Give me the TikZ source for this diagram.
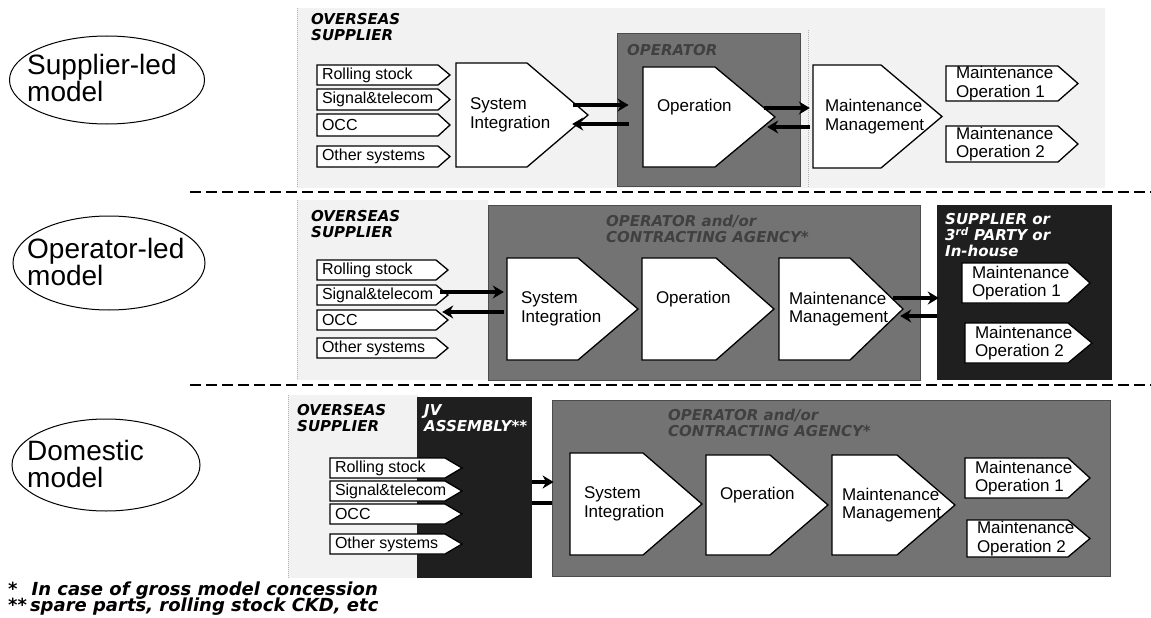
\documentclass[tikz,border=0pt]{standalone}
\usepackage{fontspec}
\setmainfont{Liberation Sans}
\newfontfamily\bifont{DejaVu Sans}
\usetikzlibrary{arrows.meta,calc,fit,shapes.geometric}

\tikzset{
 supp/.style={fill=gray!10},
 suppedge/.style={draw=gray!60, densely dotted, line width=1pt},
 opbox/.style={fill=black!55, draw=black!70, line width=0.8pt, inner sep=0},
 blkbox/.style={fill=black!88, inner sep=0},
 shapefit/.style={inner sep=0, draw=none},
 pent/.style={fill=white, draw=black, line width=1.3pt, line join=miter},
 boxtext/.style={font=\fontsize{17}{18.5}\selectfont, align=left, inner sep=0, anchor=west},
 intext/.style={font=\fontsize{16}{18}\selectfont, inner sep=0, anchor=west},
 lbl/.style={font=\bifont\bfseries\itshape\fontsize{15}{16}\selectfont, align=left, inner sep=0, anchor=north west},
 foot/.style={font=\bifont\bfseries\itshape\fontsize{18}{18}\selectfont, inner sep=0, anchor=west},
 arr/.style={line width=3.4pt, -{Stealth[length=11pt,width=13pt]}},
 sepline/.style={dash pattern=on 11pt off 5pt, line width=1.4pt},
 ell/.style={ellipse, draw, line width=1pt, inner sep=0},
 elltext/.style={font=\fontsize{28}{27}\selectfont, align=left, inner sep=0, anchor=west},
}

\newcommand\pentbox[9][boxtext]{%
  \node[shapefit, fit={(#3,#4) (#6,#7)}] (#2) {};
  \path[pent] (#3,#4) -- (#5,#4) -- (#6,{(#4+#7)/2}) -- (#5,#7) -- (#3,#7) -- cycle;
  \node[#1] (#2-t) at ($(#2.west)+(#8)$) {#9};
}

\begin{document}
\begin{tikzpicture}[x=1pt, y=-1pt]
\useasboundingbox (0,0) rectangle (1151,618);
\fill[white] (0,0) rectangle (1151,618);

% ---------- ellipses ----------
\node[ell, minimum width=195, minimum height=88] (e1) at (107,80) {};
\node[elltext] (e1t) at (27,78) {Supplier-led\\model};
\node[ell, minimum width=192, minimum height=94] (e2) at (109,263) {};
\node[elltext] (e2t) at (27,262) {Operator-led\\model};
\node[ell, minimum width=188, minimum height=92] (e3) at (106,465) {};
\node[elltext] (e3t) at (27,464) {Domestic\\model};

% ---------- separators ----------
\coordinate (d1a) at (190,192); \coordinate (d1b) at (1151,192);
\coordinate (d2a) at (190,385); \coordinate (d2b) at (1151,385);
\draw[sepline] (d1a) -- (d1b);
\draw[sepline] (d2a) -- (d2b);

% ---------- row 1 : supplier-led ----------
\path[supp] (297,8) rectangle (1105,188);
\draw[suppedge] (297,8) -- (297,188);
\draw[suppedge] (808,30) -- (808,188);
\node[lbl] (os1) at (311,13) {OVERSEAS\\SUPPLIER};
\pentbox[intext]{r1a}{317}{65}{438}{450}{85}{5,0}{Rolling stock}
\pentbox[intext]{r1b}{317}{89}{438}{450}{110}{5,0}{Signal\&telecom}
\pentbox[intext]{r1c}{317}{114}{438}{450}{136}{5,0}{OCC}
\pentbox[intext]{r1d}{317}{146}{438}{450}{167}{5,0}{Other systems}
\pentbox{si1}{456}{63}{527}{588}{167}{14,0}{System\\Integration}
\node[opbox, fit={(617,33) (800,186)}] (op1) {};
\node[lbl, text=black!75] (op1l) at (627,44) {OPERATOR};
\pentbox{o1}{643}{67}{715}{775}{167}{14,-10}{Operation}
\pentbox{m1}{813}{65}{881}{942}{168}{12,0}{Maintenance\\Management}
\pentbox{mo1a}{946}{66}{1058}{1078}{101}{10,0}{Maintenance\\Operation 1}
\pentbox{mo1b}{946}{126}{1058}{1078}{162}{10,0}{Maintenance\\Operation 2}
\draw[arr] ($(si1.east)+(-15,-10)$) -- ($(op1.west)+(12,-4.5)$);
\draw[arr] ($(op1.west)+(12,14.5)$) -- ($(si1.east)+(-16,9)$);
\draw[arr] ($(o1.east)+(-11,-9)$) -- ($(m1.west)+(-3,-8.5)$);
\draw[arr] ($(m1.west)+(-3,10.5)$) -- ($(o1.east)+(-8,10)$);

% ---------- row 2 : operator-led ----------
\path[supp] (297,200) rectangle (488,380);
\draw[suppedge] (297,200) -- (297,380);
\node[lbl] (os2) at (311,210) {OVERSEAS\\SUPPLIER};
\pentbox[intext]{r2a}{317}{260}{436}{448}{280}{5,0}{Rolling stock}
\pentbox[intext]{r2b}{317}{285}{436}{448}{305}{5,0}{Signal\&telecom}
\pentbox[intext]{r2c}{317}{310}{436}{448}{330}{5,0}{OCC}
\pentbox[intext]{r2d}{317}{338}{436}{448}{358}{5,0}{Other systems}
\node[opbox, fit={(488,205) (920,380)}] (op2) {};
\node[lbl, text=black!75] (op2l) at (606,215) {OPERATOR and/or\\CONTRACTING AGENCY*};
\pentbox{si2}{507}{258}{578}{638}{360}{14,0}{System\\Integration}
\pentbox{o2}{642}{258}{716}{774}{360}{14,-10}{Operation}
\pentbox{m2}{779}{258}{850}{903}{360}{10,0}{Maintenance\\Management}
\node[blkbox, fit={(937,205) (1112,380)}] (bk2) {};
\node[lbl, text=white] (bk2l) at (945,213) {SUPPLIER or\\3\textsuperscript{rd} PARTY or\\In-house};
\pentbox{mo2a}{962}{263}{1068}{1090}{303}{10,0}{Maintenance\\Operation 1}
\pentbox{mo2b}{965}{323}{1068}{1092}{363}{10,0}{Maintenance\\Operation 2}
\draw[arr] ($(r2b.east)+(-8,-3)$) -- ($(si2.west)+(-3,-17)$);
\draw[arr] ($(si2.west)+(-3,3)$) -- ($(r2b.east)+(-6,17)$);
\draw[arr] ($(m2.east)+(-10,-11)$) -- ($(bk2.west)+(2,5.5)$);
\draw[arr] ($(bk2.west)+(0,23.5)$) -- ($(m2.east)+(-3,7)$);

% ---------- row 3 : domestic ----------
\path[supp] (288,395) rectangle (418,578);
\draw[suppedge] (288,395) -- (288,578);
\node[lbl] (os3) at (297,404) {OVERSEAS\\SUPPLIER};
\node[blkbox, fit={(417,397) (532,578)}] (jv) {};
\node[lbl, text=white] (jvl) at (424,404) {JV\\ASSEMBLY**};
\pentbox[intext]{r3a}{330}{458}{445}{462}{478}{5,0}{Rolling stock}
\pentbox[intext]{r3b}{330}{481}{445}{462}{501}{5,0}{Signal\&telecom}
\pentbox[intext]{r3c}{330}{504}{445}{462}{524}{5,0}{OCC}
\pentbox[intext]{r3d}{330}{534}{445}{462}{554}{5,0}{Other systems}
\node[opbox, fit={(552,400) (1110,576)}] (op3) {};
\node[lbl, text=black!75] (op3l) at (668,409) {OPERATOR and/or\\CONTRACTING AGENCY*};
\pentbox{si3}{570}{453}{643}{702}{555}{14,0}{System\\Integration}
\pentbox{o3}{706}{455}{770}{828}{555}{14,-10}{Operation}
\pentbox{m3}{832}{455}{897}{955}{555}{10,0}{Maintenance\\Management}
\pentbox{mo3a}{965}{458}{1068}{1090}{498}{10,0}{Maintenance\\Operation 1}
\pentbox{mo3b}{967}{520}{1068}{1090}{557}{10,0}{Maintenance\\Operation 2}
\draw[arr] ($(jv.east)+(0,-5.5)$) -- ($(op3.west)+(2,-6)$);
\draw[line width=3.4pt] ($(jv.east)+(0,15.5)$) -- ($(op3.west)+(0,15)$);

% ---------- footnotes ----------
\node[foot] (f1) at (8,591) {*\hspace{14pt}In case of gross model concession};
\node[foot] (f2) at (8,607) {**\,spare parts, rolling stock CKD, etc};
\end{tikzpicture}
\end{document}
